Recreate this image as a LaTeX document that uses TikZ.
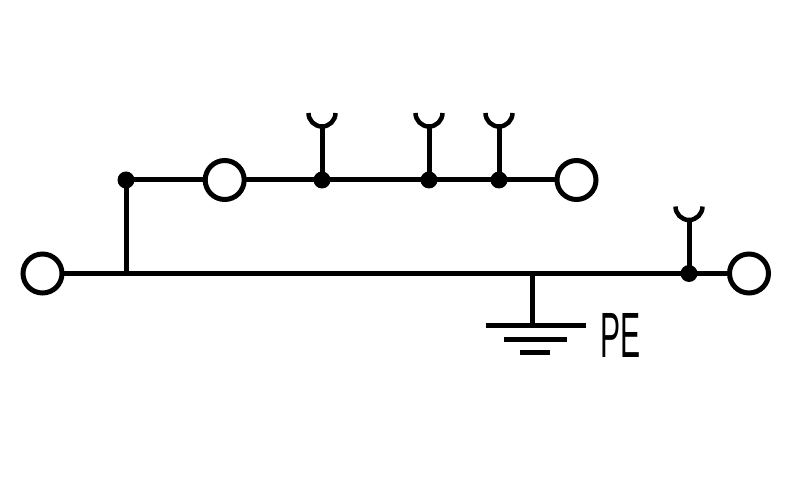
\documentclass[tikz,border=0pt]{standalone}
\usepackage{fontspec}
\setmainfont{Liberation Sans}
\tikzset{
  wire/.style={line width=5pt,black},
  term/.style={circle,draw=black,fill=white,line width=5pt,minimum size=39pt,inner sep=0pt,outer sep=0pt},
  junction/.style={circle,fill=black,draw=none,minimum size=17pt,inner sep=0pt,outer sep=0pt},
  cup/.style={line width=4.5pt,black},
  gbar/.style={line width=5pt,black}
}
\begin{document}
\begin{tikzpicture}[x=1pt,y=1pt]
\useasboundingbox (0,0) rectangle (808,500);
% terminals
\node[term] (t1) at (42.5,226.5) {};
\node[term] (t2) at (224.7,320) {};
\node[term] (t3) at (576.5,320) {};
\node[term] (t4) at (749,226.5) {};
% junctions
\node[junction] (j0) at (126,320) {};
\node[junction] (j1) at (322,320) {};
\node[junction] (j2) at (429,320) {};
\node[junction] (j3) at (499,320) {};
\node[junction] (j4) at (689,226.5) {};
\coordinate (b0) at (126,226.5);
\coordinate (b1) at (532.7,226.5);
% wires
\draw[wire] (t1) -- (b0) -- (b1) -- (j4.center) -- (t4);
\draw[wire] (b0) -- (j0.center);
\draw[wire] (j0.center) -- (t2);
\draw[wire] (t2) -- (j1.center) -- (j2.center) -- (j3.center) -- (t3);
% fork contacts
\coordinate (f1) at (322,372);
\coordinate (f2) at (429,372);
\coordinate (f3) at (499,372);
\coordinate (f4) at (689,278.5);
\foreach \n/\j in {f1/j1,f2/j2,f3/j3,f4/j4}{
  \draw[wire] (\j.center) -- (\n);
  \draw[cup] (\n) ++(-13.5,15) arc (180:360:13.5);
}
% earth
\coordinate (g1) at (532.7,174);
\coordinate (g1l) at (485.7,174);
\coordinate (g1r) at (585.7,174);
\coordinate (g2l) at (504,160);
\coordinate (g2r) at (567,160);
\coordinate (g3l) at (520,147);
\coordinate (g3r) at (550,147);
\draw[wire] (b1) -- (g1);
\draw[gbar] (g1l) -- (g1r);
\draw[gbar] (g2l) -- (g2r);
\draw[gbar] (g3l) -- (g3r);
\node[anchor=base west,inner sep=0pt,xscale=.47,font=\fontsize{64}{64}\selectfont] (pe) at (600,142) {PE};
\end{tikzpicture}
\end{document}
